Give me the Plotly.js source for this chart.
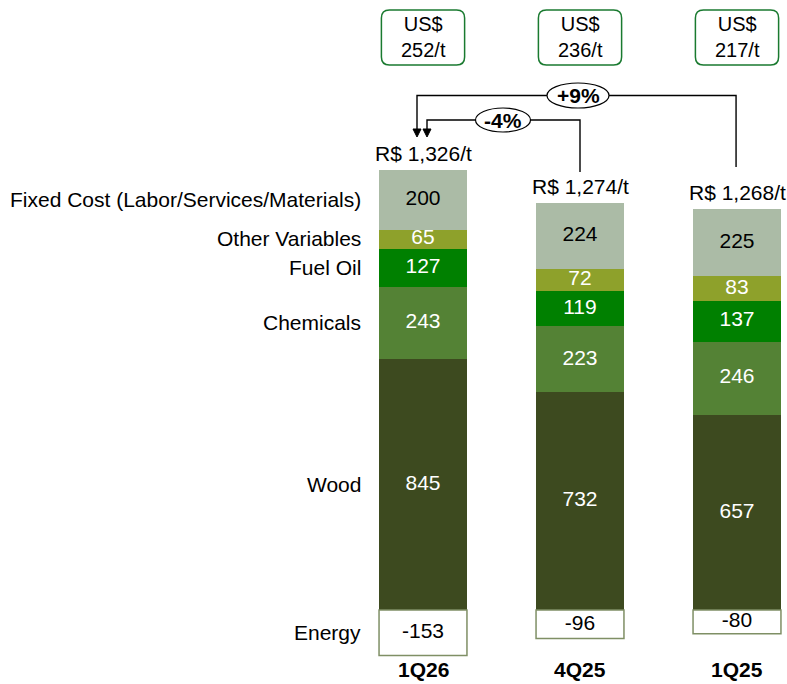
<!DOCTYPE html>
<html>
<head>
<meta charset="utf-8">
<script src="https://cdn.plot.ly/plotly-3.0.1.min.js"></script>
<style>html,body{margin:0;padding:0;background:#fff;}#chart{width:787px;height:684px;}</style>
</head>
<body>
<div id="chart"></div>
<script>
// ---- data ----
const categories = ['1Q26', '4Q25', '1Q25'];
const wood = [845, 732, 657];
const chemicals = [243, 223, 246];
const fuelOil = [127, 119, 137];
const otherVariables = [65, 72, 83];
const fixedCost = [200, 224, 225];
const energy = [-153, -96, -80];
const totalLabels = ['R$ 1,326/t', 'R$ 1,274/t', 'R$ 1,268/t'];
const usdLabels = ['252/t', '236/t', '217/t'];
const seriesNames = ['Wood', 'Chemicals', 'Fuel Oil', 'Other Variables', 'Fixed Cost (Labor/Services/Materials)', 'Energy'];
const changeLabels = ['+9%', '-4%'];

// ---- styles ----
const FONT = '"Liberation Sans", Arial, sans-serif';
const FS = 21;
const colors = ['#3d4a1f', '#548235', '#008000', '#8ea12b', '#abbba6', '#ffffff'];
const textColors = ['#ffffff', '#ffffff', '#ffffff', '#ffffff', '#000000', '#000000'];
const series = [wood, chemicals, fuelOil, otherVariables, fixedCost, energy];
const xs = categories.map((c, i) => i);

// pixel helpers for decorations (plot area = full page)
const X = px => (px - 423) / 157;
const Y = py => (610 - py) / 0.29726;

const traces = [];
series.forEach((vals, k) => {
  traces.push({
    type: 'bar', x: xs, y: vals, name: seriesNames[k], width: 0.56,
    marker: {color: colors[k], line: {color: k === 5 ? '#7f8f65' : colors[k], width: k === 5 ? 1.5 : 0}},
    hoverinfo: 'skip', showlegend: false
  });
});

// value labels at segment centres
const tx = [], ty = [], tt = [], tc = [];
xs.forEach(i => {
  let base = 0;
  for (let k = 0; k < 5; k++) {
    const v = series[k][i];
    tx.push(i); ty.push(base + v / 2); tt.push(String(v)); tc.push(textColors[k]);
    base += v;
  }
  tx.push(i); ty.push(energy[i] / 2); tt.push(String(energy[i])); tc.push(textColors[5]);
});
traces.push({type: 'scatter', mode: 'text', x: tx, y: ty, text: tt,
  textfont: {family: FONT, size: FS, color: tc}, hoverinfo: 'skip', showlegend: false});

const annotations = [];
const shapes = [];

// positive totals
const posTotal = xs.map(i => wood[i] + chemicals[i] + fuelOil[i] + otherVariables[i] + fixedCost[i]);

// series labels on the left, at centres of first bar
let base0 = 0;
for (let k = 0; k < 5; k++) {
  const v = series[k][0];
  annotations.push({x: X(363), y: base0 + v / 2, xref: 'x', yref: 'y', text: seriesNames[k],
    showarrow: false, xanchor: 'right', yanchor: 'middle', yshift: k === 3 ? 1 : 0, font: {family: FONT, size: FS, color: '#000'}});
  base0 += v;
}
annotations.push({x: X(363), y: energy[0] / 2, xref: 'x', yref: 'y', text: seriesNames[5],
  showarrow: false, xanchor: 'right', yanchor: 'middle', font: {family: FONT, size: FS, color: '#000'}});

xs.forEach(i => {
  // total labels
  annotations.push({x: i, y: posTotal[i], xref: 'x', yref: 'y', text: totalLabels[i], showarrow: false,
    xanchor: 'center', yanchor: 'bottom', yshift: 3, font: {family: FONT, size: FS, color: '#000'}});
  // category labels
  annotations.push({x: i, y: Y(669), xref: 'x', yref: 'y', text: '<b>' + categories[i] + '</b>', showarrow: false,
    xanchor: 'center', yanchor: 'middle', font: {family: FONT, size: FS, color: '#000'}});
  // USD boxes
  const hw = 0.265, rx = 8 / 157, ry = 8 / 0.29726;
  const x0 = i - hw, x1 = i + hw, yT = Y(10), yB = Y(65);
  shapes.push({type: 'path', xref: 'x', yref: 'y',
    path: `M ${x0 + rx},${yT} L ${x1 - rx},${yT} Q ${x1},${yT} ${x1},${yT - ry} L ${x1},${yB + ry} Q ${x1},${yB} ${x1 - rx},${yB} L ${x0 + rx},${yB} Q ${x0},${yB} ${x0},${yB + ry} L ${x0},${yT - ry} Q ${x0},${yT} ${x0 + rx},${yT} Z`,
    line: {color: '#1a7a30', width: 1.5}, fillcolor: '#ffffff'});
  annotations.push({x: i, y: Y(37), xref: 'x', yref: 'y', text: 'US$<br>' + usdLabels[i], showarrow: false,
    xanchor: 'center', yanchor: 'middle', font: {family: FONT, size: 20, color: '#000'}});
});

// change connectors
const line = {color: '#000', width: 1.4};
function connector(xLeft, xRight, yLine, yRightEnd, ellX, ellW, ellH, label) {
  shapes.push({type: 'path', xref: 'x', yref: 'y', line: line,
    path: `M ${xRight},${Y(yRightEnd)} L ${xRight},${Y(yLine)} L ${xLeft},${Y(yLine)} L ${xLeft},${Y(131)}`});
  const hw = 4 / 157;
  shapes.push({type: 'path', xref: 'x', yref: 'y', line: {color: '#000', width: 1}, fillcolor: '#000',
    path: `M ${xLeft - hw},${Y(129)} L ${xLeft + hw},${Y(129)} L ${xLeft},${Y(137)} Z`});
  shapes.push({type: 'circle', xref: 'x', yref: 'y', line: {color: '#000', width: 1.2}, fillcolor: '#ffffff',
    x0: X(ellX - ellW / 2), x1: X(ellX + ellW / 2), y0: Y(yLine - ellH / 2), y1: Y(yLine + ellH / 2)});
  annotations.push({x: X(ellX), y: Y(yLine), xref: 'x', yref: 'y', text: '<b>' + label + '</b>', showarrow: false,
    xanchor: 'center', yanchor: 'middle', font: {family: FONT, size: FS, color: '#000'}});
}
connector(X(417), 2 - 0.006, 95.5, 167, 578, 62, 25, changeLabels[0]);
connector(X(427), 1, 120, 172, 503, 55, 24, changeLabels[1]);

const layout = {
  width: 787, height: 684,
  margin: {l: 0, r: 0, t: 0, b: 0},
  paper_bgcolor: '#ffffff', plot_bgcolor: '#ffffff',
  barmode: 'relative', bargap: 0,
  showlegend: false,
  xaxis: {range: [X(0), X(787)], visible: false, fixedrange: true},
  yaxis: {range: [Y(684), Y(0)], visible: false, fixedrange: true},
  shapes: shapes,
  annotations: annotations,
  font: {family: FONT}
};

Plotly.newPlot('chart', traces, layout, {displayModeBar: false, staticPlot: true});
</script>
</body>
</html>
